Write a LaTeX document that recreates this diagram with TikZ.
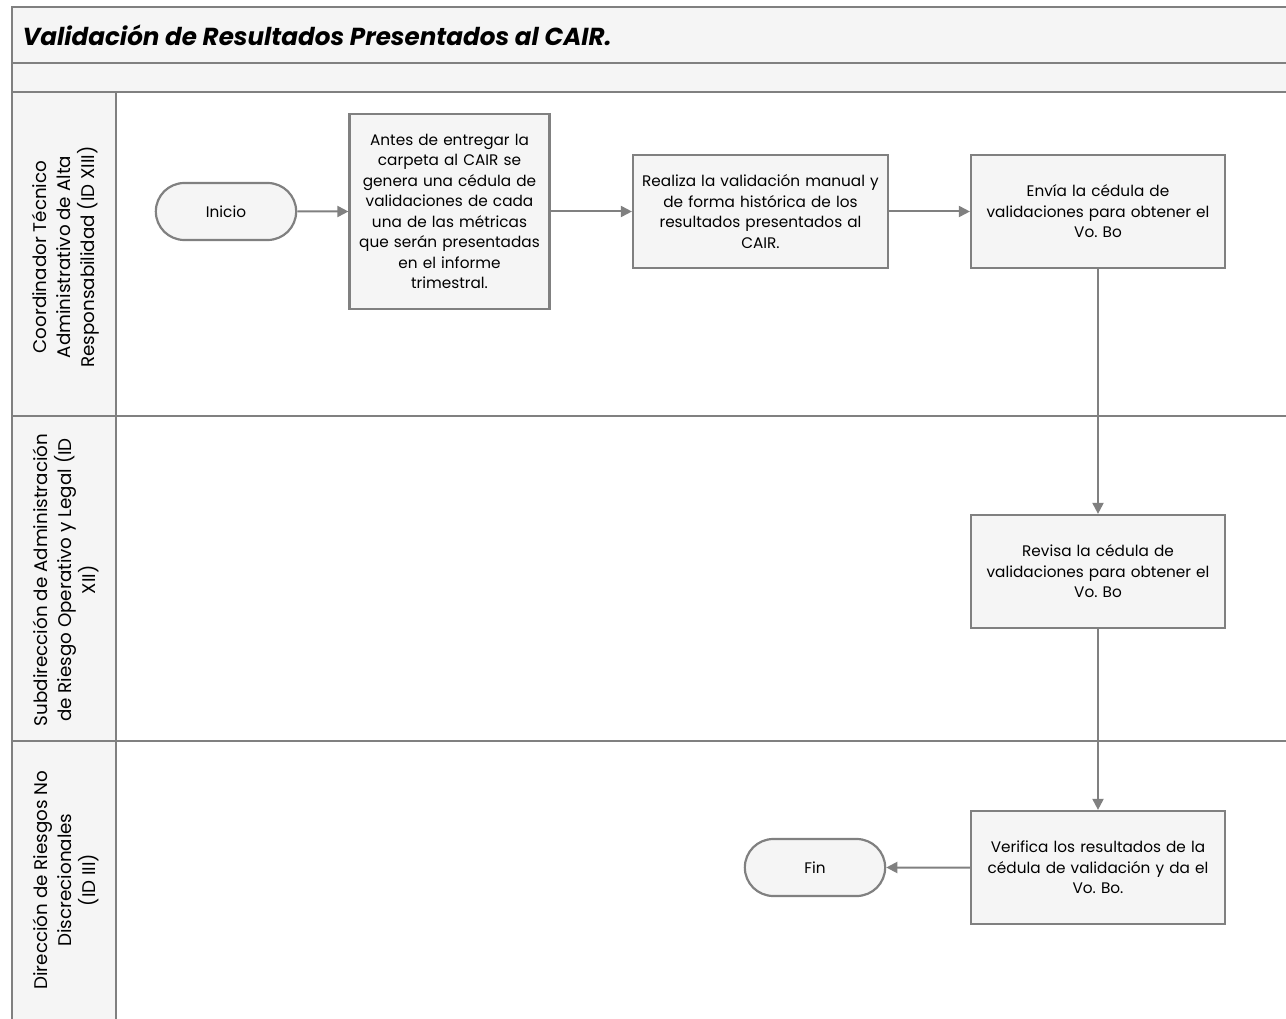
\documentclass[tikz,border=0pt]{standalone}
\usepackage{fontspec}
\setmainfont{Poppins}
\usetikzlibrary{arrows.meta,shapes.misc}
\definecolor{ln}{HTML}{808080}
\definecolor{fl}{HTML}{F5F5F5}
\frenchspacing
\tikzset{
  every node/.style={font=\fontsize{15.3}{20.5}\selectfont},
  proc/.style={draw=ln,line width=2.2pt,fill=fl,align=center,inner sep=4pt},
  term/.style={draw=ln,line width=2.2pt,fill=fl,rounded rectangle,minimum width=147pt,minimum height=57pt},
  flow/.style={draw=ln,line width=2pt,-{Triangle[length=11pt,width=11pt]}},
  frame/.style={draw=ln,line width=2.5pt},
  lanelbl/.style={rotate=90,align=center,font=\fontsize{18.3}{24}\selectfont}
}
\begin{document}
\begin{tikzpicture}[x=1pt,y=-1pt]
\useasboundingbox (0,0) rectangle (1286,1019);
\clip (0,0) rectangle (1286,1019);
% bands
\path[fill=fl] (12,7) rectangle (1300,92);
\path[fill=fl] (12,92) rectangle (116,1030);
\draw[frame] (1300,7) -- (12,7) -- (12,1030);
\draw[frame] (12,63) -- (1300,63);
\draw[frame] (12,92) -- (1300,92);
\draw[frame] (116,92) -- (116,1030);
\draw[frame] (12,416) -- (1300,416);
\draw[frame] (12,741) -- (1300,741);
\node[anchor=west,font=\fontsize{24.6}{28}\selectfont\bfseries\itshape] (title) at (19,35) {Validación de Resultados Presentados al CAIR.};
% lane labels
\node[lanelbl] (l1) at (65.5,257) {Coordinador Técnico\\Administrativo de Alta\\Responsabilidad (ID XIII)};
\node[lanelbl] (l2) at (65.5,580) {Subdirección de Administración\\de Riesgo Operativo y Legal (ID\\XII)};
\node[lanelbl] (l3) at (65.5,880) {Dirección de Riesgos No\\Discrecionales\\(ID III)};
% nodes
\node[term] (ini) at (226,211.5) {Inicio};
\node[proc,minimum width=199pt,minimum height=195pt,text width=192pt] (b1) at (449.5,211.5) {Antes de entregar la\\carpeta al CAIR se\\genera una cédula de\\validaciones de cada\\una de las métricas\\que serán presentadas\\en el informe\\trimestral.};
\node[proc,minimum width=255pt,minimum height=113pt,text width=247pt] (b2) at (760.5,211.5) {Realiza la validación manual y\\de forma histórica de los\\resultados presentados al\\CAIR.};
\node[proc,minimum width=254pt,minimum height=113pt,text width=246pt] (b3) at (1098,211.5) {Envía la cédula de\\validaciones para obtener el\\Vo. Bo};
\node[proc,minimum width=254pt,minimum height=113pt,text width=246pt] (b4) at (1098,571.5) {Revisa la cédula de\\validaciones para obtener el\\Vo. Bo};
\node[proc,minimum width=254pt,minimum height=113pt,text width=246pt] (b5) at (1098,867.5) {Verifica los resultados de la\\cédula de validación y da el\\Vo. Bo.};
\node[term] (fin) at (815,867.5) {Fin};
% flows
\draw[flow] (ini) -- (b1);
\draw[flow] (b1) -- (b2);
\draw[flow] (b2) -- (b3);
\draw[flow] (b3) -- (b4);
\draw[flow] (b4) -- (b5);
\draw[flow] (b5) -- (fin);
\end{tikzpicture}
\end{document}
